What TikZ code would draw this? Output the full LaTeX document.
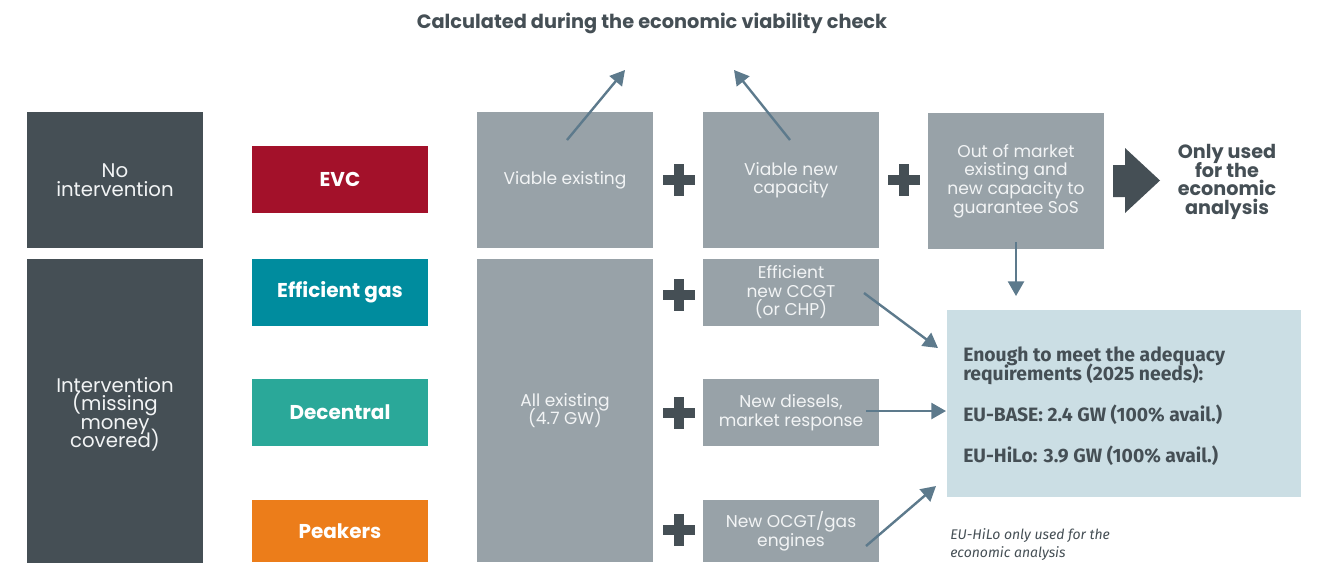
\documentclass[tikz,border=0pt]{standalone}
\usepackage{fontspec}
\setmainfont{Poppins}
\newfontfamily\fira{Fira Sans}
\usetikzlibrary{arrows.meta}
\definecolor{darkslate}{HTML}{454F55}
\definecolor{evcred}{HTML}{A3112A}
\definecolor{effteal}{HTML}{008C9E}
\definecolor{decgreen}{HTML}{2AA899}
\definecolor{peakorange}{HTML}{EC7D1A}
\definecolor{greybox}{HTML}{98A2A8}
\definecolor{bluebox}{HTML}{CBDEE4}
\definecolor{arrowc}{HTML}{5D7A8C}
\definecolor{boxtext}{HTML}{F2F4F5}
\begin{document}
\lineskiplimit=-30pt
\begin{tikzpicture}[x=0.75pt,y=-0.75pt,
  blk/.style={inner sep=0pt, minimum width=132pt, align=center, text=boxtext},
  leftbox/.style={blk, fill=darkslate, font=\fontsize{14.8}{13.9}\selectfont},
  colbox/.style={blk, text=white, font=\bfseries\fontsize{15}{16}\selectfont},
  gbox/.style={blk, fill=greybox, font=\fontsize{12.8}{13.9}\selectfont},
  tall/.style={minimum height=102pt},
  long/.style={minimum height=227.25pt},
  short/.style={minimum height=50.25pt},
  shortb/.style={minimum height=46.5pt},
  arr/.style={draw=arrowc, line width=1.8pt, -{Triangle[length=11pt,width=12pt]}},
  plusst/.style={draw=darkslate, line width=7.5pt},
]
\useasboundingbox (0,0) rectangle (1319,562);

% title
\node[font=\bfseries\fontsize{14.5}{16}\selectfont, text=darkslate] (title) at (652,23) {Calculated during the economic viability check};

% left column
\node[leftbox, tall] (noint) at (115,180) {No\\intervention};
\node[leftbox, minimum height=233.25pt] (int) at (115,414.5) {Intervention\\(missing\\money\\covered)};

% coloured boxes
\node[colbox, short, fill=evcred] (evc) at (340,179.5) {EVC};
\node[colbox, short, fill=effteal] (effgas) at (340,292.5) {Efficient gas};
\node[colbox, short, fill=decgreen] (dec) at (340,412.5) {Decentral};
\node[colbox, shortb, fill=peakorange] (peak) at (340,531) {Peakers};

% grey column 1
\node[gbox, tall] (viex) at (565,180) {Viable existing};
\node[gbox, long] (allex) at (565,410.5) {All existing\\(4.7 GW)};

% grey column 2
\node[gbox, tall] (vinew) at (791,180) {Viable new\\capacity};
\node[gbox, short] (ccgt) at (791,292.5) {Efficient\\new CCGT\\(or CHP)};
\node[gbox, short] (dies) at (791,412.5) {New diesels,\\market response};
\node[gbox, shortb] (ocgt) at (791,531) {New OCGT/gas\\engines};

% grey column 3
\node[gbox, tall] (oom) at (1016,181) {Out of market\\existing and\\new capacity to\\guarantee SoS};

% only used
\node[font=\bfseries\fontsize{14.4}{14}\selectfont, text=darkslate, align=center] (only) at (1227,182) {Only used\\for the\\economic\\analysis};

% big block arrow
\fill[darkslate] (1113,165) -- (1125,165) -- (1125,148) -- (1160,180.5) -- (1125,213) -- (1125,197) -- (1113,197) -- cycle;

% blue box
\node[fill=bluebox, minimum width=265.5pt, minimum height=140.25pt, inner sep=0pt] (adeq) at (1124,403.5) {};
\node[anchor=north west, inner sep=0pt, align=left, text=darkslate, font=\fira\bfseries\fontsize{14.5}{14.25}\selectfont] (adeqtxt) at (963,347) {Enough to meet the adequacy\\requirements (2025 needs):\\[16.5pt]EU-BASE: 2.4 GW (100\% avail.)\\[15.8pt]EU-HiLo: 3.9 GW (100\% avail.)};

% footnote
\node[anchor=north west, inner sep=0pt, align=left, text=darkslate, font=\fira\itshape\fontsize{10.5}{13.5}\selectfont] (foot) at (950,528) {EU-HiLo only used for the\\economic analysis};

% plus signs
\foreach \px/\py in {679/180, 904/180, 679/295, 679/413, 679/530} {
  \draw[plusst] (\px-16,\py) -- (\px+16,\py) (\px,\py-16) -- (\px,\py+16);
}

% arrows
\coordinate (u1s) at (567,140); \coordinate (u1e) at (625,70);
\coordinate (u2s) at (790,140); \coordinate (u2e) at (734,70);
\coordinate (ds) at (1016,242); \coordinate (de) at (1016,296);
\coordinate (a1s) at (864,293); \coordinate (a1e) at (938,348);
\coordinate (a2s) at (866,411); \coordinate (a2e) at (946,411);
\coordinate (a3s) at (866,546); \coordinate (a3e) at (936,486);
\draw[arr] (u1s) -- (u1e);
\draw[arr] (u2s) -- (u2e);
\draw[arr] (ds) -- (de);
\draw[arr] (a1s) -- (a1e);
\draw[arr] (a2s) -- (a2e);
\draw[arr] (a3s) -- (a3e);
\end{tikzpicture}
\end{document}
